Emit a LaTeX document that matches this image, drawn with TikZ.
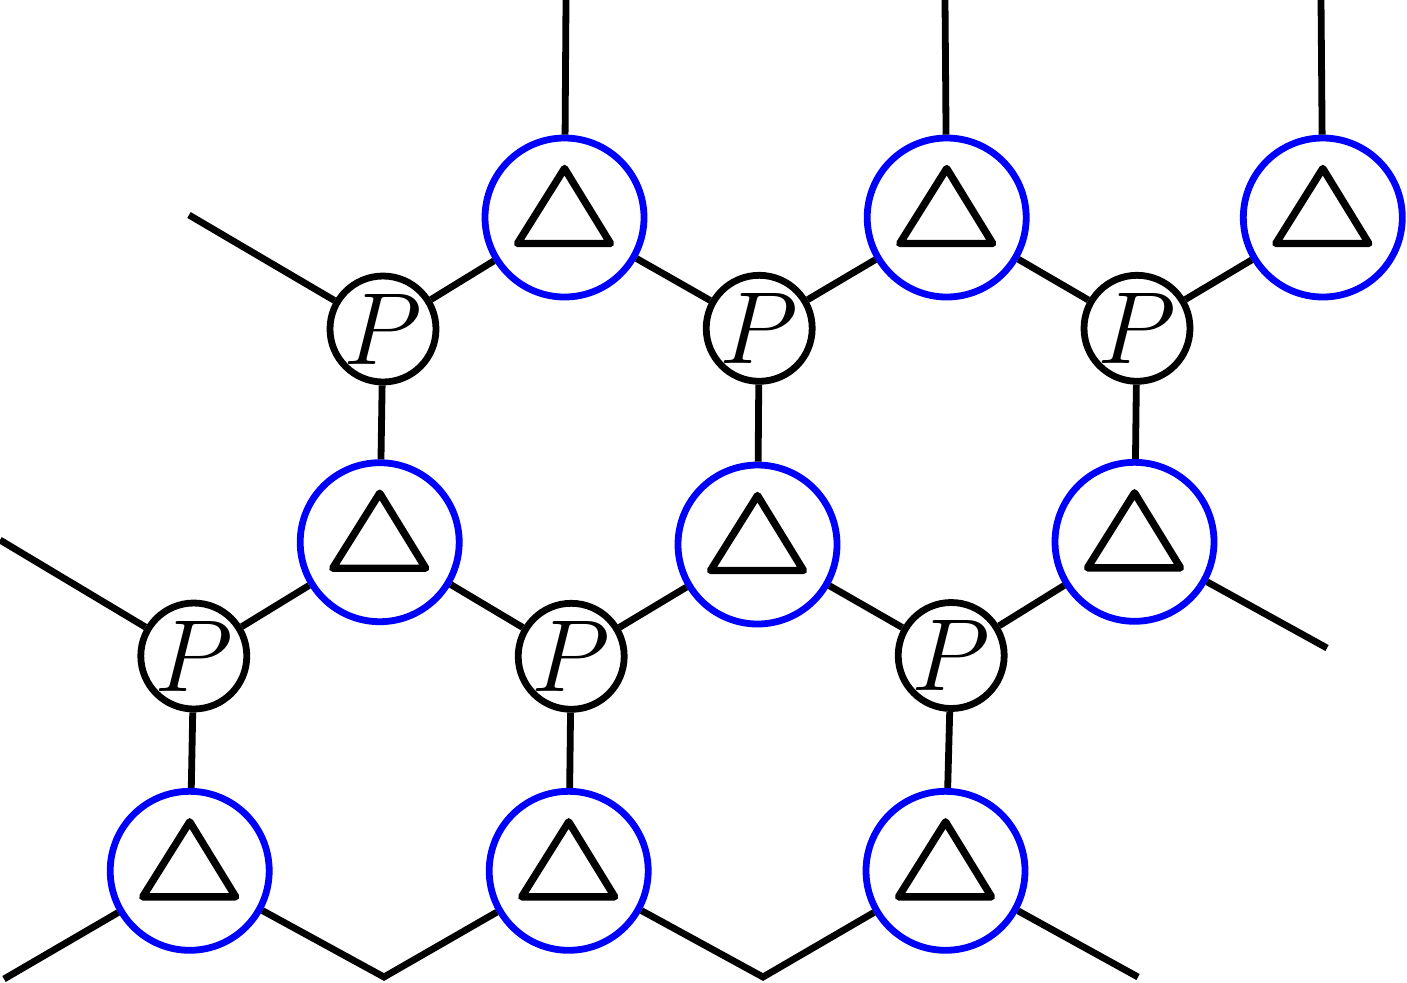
\documentclass[tikz,border=0pt]{standalone}
\usepackage{graphicx}
\newcommand{\bigP}{\scalebox{2.06}{\Huge$P$}}
\begin{document}
\begin{tikzpicture}[x=0.5pt,y=-0.5pt,
  edge/.style={line width=3.4pt, black},
  delta/.style={circle, draw=blue, line width=3.4pt, minimum size=79.5pt, inner sep=0pt,
    path picture={\draw[black, line width=3.7pt, line join=round]
      ([shift={(0pt,24.5pt)}]path picture bounding box.center) --
      ([shift={(-23.5pt,-13pt)}]path picture bounding box.center) --
      ([shift={(23pt,-13pt)}]path picture bounding box.center) -- cycle;}},
  pnode/.style={circle, draw=black, line width=3.4pt, minimum size=53pt, inner sep=0pt}]
\useasboundingbox (0,0) rectangle (1407,982);
% Delta nodes
\node[delta] (D1) at (564.5,217.5) {};
\node[delta] (D2) at (946.7,217.5) {};
\node[delta] (D3) at (1322.8,217.5) {};
\node[delta] (D4) at (379.7,542.2) {};
\node[delta] (D5) at (757.5,544.5) {};
\node[delta] (D6) at (1134.5,541.8) {};
\node[delta] (D7) at (189.7,870.8) {};
\node[delta] (D8) at (568.7,870.8) {};
\node[delta] (D9) at (945.5,870.8) {};
% P nodes
\node[pnode] (P1) at (383,329) {\bigP};
\node[pnode] (P2) at (759.2,328.3) {\bigP};
\node[pnode] (P3) at (1137,328.3) {\bigP};
\node[pnode] (P4) at (193.8,656) {\bigP};
\node[pnode] (P5) at (571.2,656.3) {\bigP};
\node[pnode] (P6) at (951.2,655.5) {\bigP};
% free ends
\coordinate (t1) at (566,0);
\coordinate (t2) at (945,0);
\coordinate (t3) at (1321,0);
\coordinate (l1) at (189,215);
\coordinate (l2) at (0,540);
\coordinate (r1) at (1327,648);
\coordinate (b0) at (4,979);
\coordinate (b1) at (384,977);
\coordinate (b2) at (763,977);
\coordinate (b3) at (1138,977);
% edges
\draw[edge] (t1) -- (D1);
\draw[edge] (t2) -- (D2);
\draw[edge] (t3) -- (D3);
\draw[edge] (l1) -- (P1);
\draw[edge] (P1) -- (D1);
\draw[edge] (D1) -- (P2);
\draw[edge] (P2) -- (D2);
\draw[edge] (D2) -- (P3);
\draw[edge] (P3) -- (D3);
\draw[edge] (P1) -- (D4);
\draw[edge] (P2) -- (D5);
\draw[edge] (P3) -- (D6);
\draw[edge] (l2) -- (P4);
\draw[edge] (P4) -- (D4);
\draw[edge] (D4) -- (P5);
\draw[edge] (P5) -- (D5);
\draw[edge] (D5) -- (P6);
\draw[edge] (P6) -- (D6);
\draw[edge] (D6) -- (r1);
\draw[edge] (P4) -- (D7);
\draw[edge] (P5) -- (D8);
\draw[edge] (P6) -- (D9);
\draw[edge] (b0) -- (D7);
\draw[edge] (D7) -- (b1) -- (D8);
\draw[edge] (D8) -- (b2) -- (D9);
\draw[edge] (D9) -- (b3);
\end{tikzpicture}
\end{document}
